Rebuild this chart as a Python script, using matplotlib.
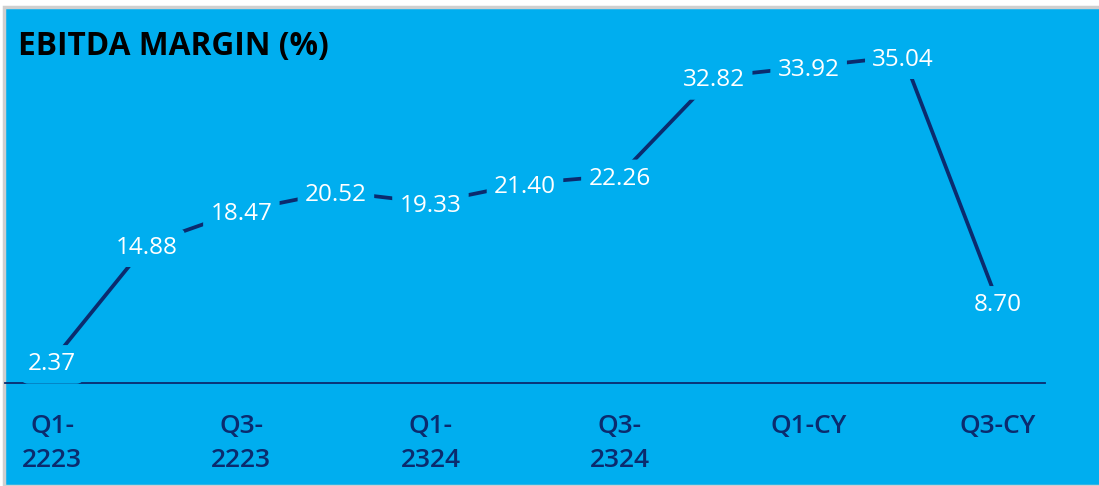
import matplotlib.pyplot as plt
from matplotlib.patches import Rectangle

plt.rcParams['font.family'] = ['Open Sans', 'DejaVu Sans']

# data
quarters = ["Q1-\n2223", "Q2-\n2223", "Q3-\n2223", "Q4-\n2223", "Q1-\n2324", "Q2-\n2324",
            "Q3-\n2324", "Q4-\n2324", "Q1-CY", "Q2-CY", "Q3-CY"]
margin = [2.37, 14.88, 18.47, 20.52, 19.33, 21.40, 22.26, 32.82, 33.92, 35.04, 8.70]

bg = "#00AEEF"
navy = "#0B2B6E"

fig = plt.figure(figsize=(10.99, 4.86), dpi=100)
fig.patch.set_facecolor("white")
# background panel with thin grey frame
fig.patches.append(Rectangle((4 / 1099, 0), 1.1, (486 - 7) / 486, transform=fig.transFigure,
                             facecolor=bg, edgecolor="#cfcfcf", linewidth=2.5, zorder=-10))

ax = fig.add_axes([5 / 1099, (486 - 383) / 486, 1040 / 1099, 373 / 486])
ax.set_facecolor("none")
ax.set_zorder(5)

x = list(range(len(margin)))
ax.plot(x, margin, color=navy, linewidth=2.7, solid_capstyle="butt", zorder=2)

for xi, v in zip(x, margin):
    ax.annotate(f"{v:.2f}", (xi, v), xytext=(0, -2.5), textcoords="offset points",
                color="white", fontsize=17.5, ha="center", va="center", zorder=4,
                bbox=dict(boxstyle="round,pad=0.3", facecolor=bg, edgecolor="none"))

ax.set_xlim(-0.5, len(margin) - 0.5)
ax.set_ylim(0, 40)

ax.set_xticks(x[::2])
ax.set_xticklabels(quarters[::2], color=navy, fontsize=19, fontweight="semibold",
                   linespacing=1.5)
ax.tick_params(axis="x", length=0, pad=22)
ax.set_yticks([])

for side in ["top", "right", "left"]:
    ax.spines[side].set_visible(False)
ax.spines["bottom"].set_color(navy)
ax.spines["bottom"].set_linewidth(1.3)
ax.spines["bottom"].set_zorder(1)

fig.text(18 / 1099, 1 - 46 / 486, "EBITDA MARGIN (%)", fontsize=22.8, fontweight="bold",
         color="black", ha="left", va="center", zorder=6)

fig.savefig("out.png", dpi=100, facecolor=fig.get_facecolor())
